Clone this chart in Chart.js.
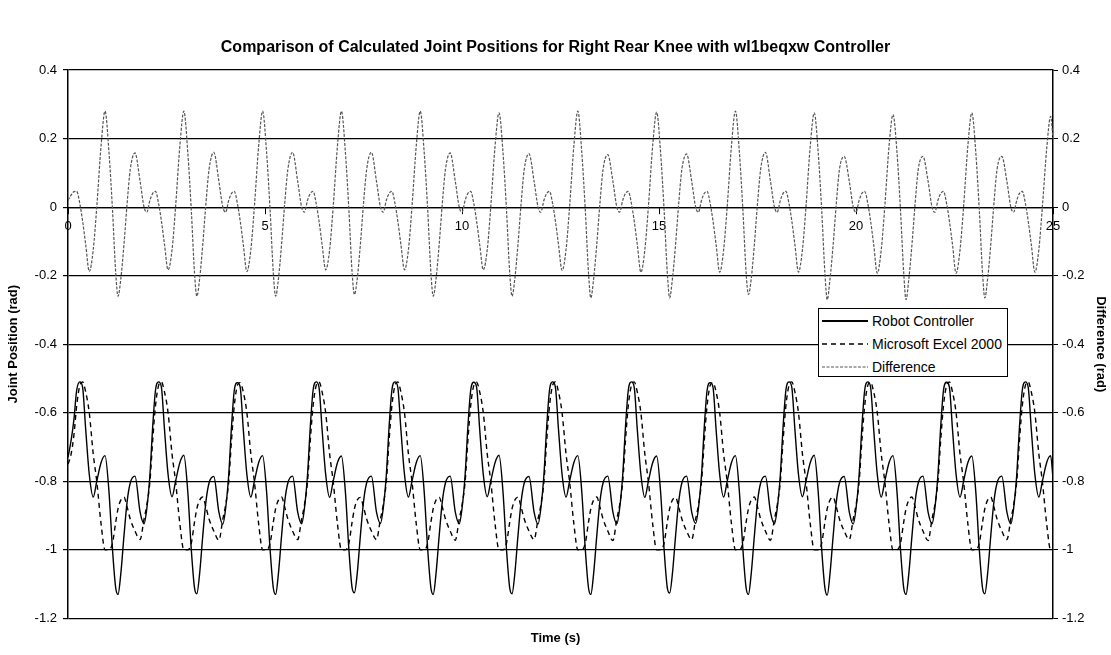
<!DOCTYPE html>
<html><head><meta charset="utf-8">
<script src="https://cdn.jsdelivr.net/npm/chart.js@4.4.1/dist/chart.umd.min.js"></script>
<style>
html,body{margin:0;padding:0;background:#fff}
#wrap{position:relative;width:1111px;height:655px}
#legend{position:absolute;left:818px;top:308px;width:190px;height:69px;border:1px solid #000;background:#fff;
font-family:'Liberation Sans',Arial,sans-serif;font-size:14px;color:#000;box-sizing:border-box;padding-top:0px}
#legend .row{height:23px;display:flex;align-items:center}
#legend svg{margin-left:3px;margin-right:4px;flex:none}
</style></head>
<body><div id="wrap"><canvas id="c" width="1111" height="655"></canvas>
<div id="legend">
<div class="row"><svg width="46" height="10"><line x1="0" y1="5" x2="46" y2="5" stroke="#000" stroke-width="2"/></svg><span>Robot Controller</span></div>
<div class="row"><svg width="46" height="10"><line x1="0" y1="5" x2="46" y2="5" stroke="#000" stroke-width="1.4" stroke-dasharray="5,4"/></svg><span>Microsoft Excel 2000</span></div>
<div class="row"><svg width="46" height="10"><line x1="0" y1="5" x2="46" y2="5" stroke="#555" stroke-width="1.2" stroke-dasharray="3,1.5"/></svg><span>Difference</span></div>
</div></div>
<script>
const chartTitle = 'Comparison of Calculated Joint Positions for Right Rear Knee with wl1beqxw Controller';
const seriesNames = ['Robot Controller', 'Microsoft Excel 2000', 'Difference'];
const xTicks = [0, 5, 10, 15, 20, 25];
const yTicks = [0.4, 0.2, 0, -0.2, -0.4, -0.6, -0.8, -1, -1.2];
const yTickLabels = ['0.4', '0.2', '0', '-0.2', '-0.4', '-0.6', '-0.8', '-1', '-1.2'];

const time = [
0,0.08,0.15,0.22,0.3,0.37,0.45,0.54,0.64,0.73,0.84,0.94,1.04,1.13,1.21,1.27,1.34,1.42,1.5,1.58,1.7,1.83,1.93,
2,2.08,2.15,2.22,2.3,2.37,2.45,2.54,2.64,2.73,2.84,2.94,3.04,3.13,3.21,3.27,3.34,3.42,3.5,3.58,3.7,3.83,3.93,
4,4.08,4.15,4.22,4.3,4.37,4.45,4.54,4.64,4.73,4.84,4.94,5.04,5.13,5.21,5.27,5.34,5.42,5.5,5.58,5.7,5.83,5.93,
6,6.08,6.15,6.22,6.3,6.37,6.45,6.54,6.64,6.73,6.84,6.94,7.04,7.13,7.21,7.27,7.34,7.42,7.5,7.58,7.7,7.83,7.93,
8,8.08,8.15,8.22,8.3,8.37,8.45,8.54,8.64,8.73,8.84,8.94,9.04,9.13,9.21,9.27,9.34,9.42,9.5,9.58,9.7,9.83,9.93,
10,10.08,10.15,10.22,10.3,10.37,10.45,10.54,10.64,10.73,10.84,10.94,11.04,11.13,11.21,11.27,11.34,11.42,11.5,11.58,11.7,11.83,11.93,
12,12.08,12.15,12.22,12.3,12.37,12.45,12.54,12.64,12.73,12.84,12.94,13.04,13.13,13.21,13.27,13.34,13.42,13.5,13.58,13.7,13.83,13.93,
14,14.08,14.15,14.22,14.3,14.37,14.45,14.54,14.64,14.73,14.84,14.94,15.04,15.13,15.21,15.27,15.34,15.42,15.5,15.58,15.7,15.83,15.93,
16,16.08,16.15,16.22,16.3,16.37,16.45,16.54,16.64,16.73,16.84,16.94,17.04,17.13,17.21,17.27,17.34,17.42,17.5,17.58,17.7,17.83,17.93,
18,18.08,18.15,18.22,18.3,18.37,18.45,18.54,18.64,18.73,18.84,18.94,19.04,19.13,19.21,19.27,19.34,19.42,19.5,19.58,19.7,19.83,19.93,
20,20.08,20.15,20.22,20.3,20.37,20.45,20.54,20.64,20.73,20.84,20.94,21.04,21.13,21.21,21.27,21.34,21.42,21.5,21.58,21.7,21.83,21.93,
22,22.08,22.15,22.22,22.3,22.37,22.45,22.54,22.64,22.73,22.84,22.94,23.04,23.13,23.21,23.27,23.34,23.42,23.5,23.58,23.7,23.83,23.93,
24,24.08,24.15,24.22,24.3,24.37,24.45,24.54,24.64,24.73,24.84,24.94,25
];

const robotController = [
-0.73,-0.68,-0.62,-0.535,-0.51,-0.525,-0.65,-0.78,-0.846,-0.8,-0.745,-0.725,-0.83,-1,-1.11,-1.13,-1.07,-0.96,-0.86,-0.805,-0.785,-0.89,-0.924,
-0.88,-0.78,-0.64,-0.535,-0.51,-0.525,-0.65,-0.78,-0.845,-0.8,-0.745,-0.724,-0.83,-1,-1.11,-1.128,-1.07,-0.96,-0.86,-0.805,-0.786,-0.89,-0.925,
-0.88,-0.78,-0.64,-0.535,-0.512,-0.525,-0.65,-0.78,-0.846,-0.8,-0.745,-0.725,-0.83,-1,-1.11,-1.13,-1.07,-0.96,-0.86,-0.805,-0.785,-0.89,-0.924,
-0.88,-0.78,-0.64,-0.535,-0.51,-0.525,-0.65,-0.78,-0.847,-0.8,-0.745,-0.726,-0.83,-1,-1.11,-1.125,-1.07,-0.96,-0.86,-0.805,-0.785,-0.89,-0.923,
-0.88,-0.78,-0.64,-0.535,-0.51,-0.525,-0.65,-0.78,-0.846,-0.8,-0.745,-0.725,-0.83,-1,-1.11,-1.13,-1.07,-0.96,-0.86,-0.805,-0.785,-0.89,-0.924,
-0.88,-0.78,-0.64,-0.535,-0.511,-0.525,-0.65,-0.78,-0.845,-0.8,-0.745,-0.724,-0.83,-1,-1.11,-1.128,-1.07,-0.96,-0.86,-0.805,-0.786,-0.89,-0.925,
-0.88,-0.78,-0.64,-0.535,-0.51,-0.525,-0.65,-0.78,-0.846,-0.8,-0.745,-0.725,-0.83,-1,-1.11,-1.13,-1.07,-0.96,-0.86,-0.805,-0.785,-0.89,-0.924,
-0.88,-0.78,-0.64,-0.535,-0.51,-0.525,-0.65,-0.78,-0.847,-0.8,-0.745,-0.726,-0.83,-1,-1.11,-1.126,-1.07,-0.96,-0.86,-0.805,-0.785,-0.89,-0.923,
-0.88,-0.78,-0.64,-0.535,-0.512,-0.525,-0.65,-0.78,-0.846,-0.8,-0.745,-0.725,-0.83,-1,-1.11,-1.13,-1.07,-0.96,-0.86,-0.805,-0.785,-0.89,-0.924,
-0.88,-0.78,-0.64,-0.535,-0.51,-0.525,-0.65,-0.78,-0.845,-0.8,-0.745,-0.724,-0.83,-1,-1.11,-1.132,-1.07,-0.96,-0.86,-0.805,-0.786,-0.89,-0.925,
-0.88,-0.78,-0.64,-0.535,-0.51,-0.525,-0.65,-0.78,-0.846,-0.8,-0.745,-0.725,-0.83,-1,-1.11,-1.13,-1.07,-0.96,-0.86,-0.805,-0.785,-0.89,-0.924,
-0.88,-0.78,-0.64,-0.535,-0.511,-0.525,-0.65,-0.78,-0.846,-0.8,-0.745,-0.726,-0.83,-1,-1.11,-1.128,-1.07,-0.96,-0.86,-0.805,-0.785,-0.89,-0.924,
-0.88,-0.78,-0.64,-0.535,-0.51,-0.525,-0.65,-0.78,-0.846,-0.8,-0.745,-0.725,-0.79
];

const excel2000 = [
-0.75,-0.72,-0.665,-0.58,-0.52,-0.51,-0.54,-0.6,-0.72,-0.8,-0.925,-1,-1,-0.98,-0.92,-0.88,-0.855,-0.846,-0.875,-0.91,-0.945,-0.97,-0.91,
-0.87,-0.8,-0.68,-0.58,-0.52,-0.51,-0.54,-0.6,-0.72,-0.8,-0.925,-1,-1,-0.98,-0.92,-0.88,-0.855,-0.846,-0.875,-0.91,-0.945,-0.972,-0.91,
-0.87,-0.8,-0.68,-0.58,-0.52,-0.512,-0.54,-0.6,-0.72,-0.8,-0.925,-1,-1,-0.98,-0.92,-0.88,-0.855,-0.846,-0.875,-0.91,-0.945,-0.97,-0.91,
-0.87,-0.8,-0.68,-0.58,-0.52,-0.51,-0.54,-0.6,-0.72,-0.8,-0.925,-1,-1,-0.98,-0.92,-0.88,-0.855,-0.847,-0.875,-0.91,-0.945,-0.97,-0.91,
-0.87,-0.8,-0.68,-0.58,-0.52,-0.51,-0.54,-0.6,-0.72,-0.8,-0.925,-1,-1,-0.98,-0.92,-0.88,-0.855,-0.846,-0.875,-0.91,-0.945,-0.972,-0.91,
-0.87,-0.8,-0.68,-0.58,-0.52,-0.511,-0.54,-0.6,-0.72,-0.8,-0.925,-1,-1,-0.98,-0.92,-0.88,-0.855,-0.846,-0.875,-0.91,-0.945,-0.97,-0.91,
-0.87,-0.8,-0.68,-0.58,-0.52,-0.51,-0.54,-0.6,-0.72,-0.8,-0.925,-1,-1,-0.98,-0.92,-0.88,-0.855,-0.846,-0.875,-0.91,-0.945,-0.973,-0.91,
-0.87,-0.8,-0.68,-0.58,-0.52,-0.51,-0.54,-0.6,-0.72,-0.8,-0.925,-1,-1,-0.98,-0.92,-0.88,-0.855,-0.847,-0.875,-0.91,-0.945,-0.97,-0.91,
-0.87,-0.8,-0.68,-0.58,-0.52,-0.512,-0.54,-0.6,-0.72,-0.8,-0.925,-1,-1,-0.98,-0.92,-0.88,-0.855,-0.846,-0.875,-0.91,-0.945,-0.972,-0.91,
-0.87,-0.8,-0.68,-0.58,-0.52,-0.51,-0.54,-0.6,-0.72,-0.8,-0.925,-1,-1,-0.98,-0.92,-0.88,-0.855,-0.846,-0.875,-0.91,-0.945,-0.97,-0.91,
-0.87,-0.8,-0.68,-0.58,-0.52,-0.511,-0.54,-0.6,-0.72,-0.8,-0.925,-1,-1,-0.98,-0.92,-0.88,-0.855,-0.846,-0.875,-0.91,-0.945,-0.973,-0.91,
-0.87,-0.8,-0.68,-0.58,-0.52,-0.51,-0.54,-0.6,-0.72,-0.8,-0.925,-1,-1,-0.98,-0.92,-0.88,-0.855,-0.846,-0.875,-0.91,-0.945,-0.97,-0.91,
-0.87,-0.8,-0.68,-0.58,-0.52,-0.51,-0.54,-0.6,-0.72,-0.8,-0.925,-1,-1
];

const difference = [
0.02,0.035,0.045,0.046,0.01,-0.04,-0.11,-0.188,-0.125,0,0.18,0.28,0.16,-0.01,-0.19,-0.26,-0.21,-0.11,0.01,0.11,0.158,0.075,0,
-0.015,0.02,0.04,0.046,0.01,-0.04,-0.11,-0.183,-0.125,0,0.18,0.28,0.16,-0.01,-0.19,-0.26,-0.21,-0.11,0.01,0.11,0.16,0.075,0,
-0.015,0.02,0.04,0.046,0.01,-0.04,-0.11,-0.188,-0.125,0,0.18,0.28,0.16,-0.01,-0.19,-0.26,-0.21,-0.11,0.01,0.11,0.16,0.075,0,
-0.015,0.02,0.04,0.046,0.01,-0.04,-0.11,-0.183,-0.125,0,0.18,0.28,0.16,-0.01,-0.19,-0.255,-0.21,-0.11,0.01,0.11,0.16,0.075,0,
-0.015,0.02,0.04,0.046,0.01,-0.04,-0.11,-0.183,-0.125,0,0.18,0.28,0.16,-0.01,-0.19,-0.26,-0.21,-0.11,0.01,0.11,0.158,0.075,0,
-0.015,0.02,0.04,0.046,0.01,-0.04,-0.11,-0.183,-0.125,0,0.18,0.275,0.16,-0.01,-0.19,-0.26,-0.21,-0.11,0.01,0.11,0.156,0.075,0,
-0.015,0.02,0.04,0.046,0.01,-0.04,-0.11,-0.185,-0.125,0,0.18,0.28,0.16,-0.01,-0.19,-0.265,-0.21,-0.11,0.01,0.11,0.153,0.075,0,
-0.015,0.02,0.04,0.046,0.01,-0.04,-0.11,-0.19,-0.125,0,0.18,0.277,0.16,-0.01,-0.19,-0.265,-0.21,-0.11,0.01,0.11,0.155,0.075,0,
-0.015,0.02,0.04,0.046,0.01,-0.04,-0.11,-0.19,-0.125,0,0.18,0.28,0.16,-0.01,-0.19,-0.255,-0.21,-0.11,0.01,0.11,0.16,0.075,0,
-0.015,0.02,0.04,0.046,0.01,-0.04,-0.11,-0.19,-0.125,0,0.18,0.275,0.16,-0.01,-0.19,-0.27,-0.21,-0.11,0.01,0.11,0.148,0.075,0,
-0.015,0.02,0.04,0.046,0.01,-0.04,-0.11,-0.193,-0.125,0,0.18,0.27,0.16,-0.01,-0.19,-0.27,-0.21,-0.11,0.01,0.11,0.148,0.075,0,
-0.015,0.02,0.04,0.046,0.01,-0.04,-0.11,-0.193,-0.125,0,0.18,0.275,0.16,-0.01,-0.19,-0.265,-0.21,-0.11,0.01,0.11,0.148,0.075,0,
-0.015,0.02,0.04,0.046,0.01,-0.04,-0.11,-0.19,-0.125,0,0.17,0.265,0.2
];

const FONT = "'Liberation Sans', Arial, sans-serif";
const pts = arr => time.map((t, i) => ({x: t, y: arr[i]}));
const setTicks = vals => scale => { scale.ticks = vals.map(v => ({value: v})); };
const yLabel = v => { const i = yTicks.findIndex(t => Math.abs(t - v) < 1e-9); return i >= 0 ? yTickLabels[i] : ''; };

new Chart(document.getElementById('c'), {
  type: 'line',
  data: {
    datasets: [
      {label: seriesNames[0], data: pts(robotController), borderColor: '#000', borderWidth: 1.4, pointRadius: 0, cubicInterpolationMode: 'monotone', yAxisID: 'y'},
      {label: seriesNames[1], data: pts(excel2000), borderColor: '#000', borderWidth: 1.4, borderDash: [5, 4], pointRadius: 0, cubicInterpolationMode: 'monotone', yAxisID: 'y'},
      {label: seriesNames[2], data: pts(difference), borderColor: '#555', borderWidth: 1.2, borderDash: [3, 1.5], pointRadius: 0, cubicInterpolationMode: 'monotone', yAxisID: 'y2'}
    ]
  },
  options: {
    responsive: false, animation: false, events: [],
    layout: {padding: 0},
    plugins: {
      legend: {display: false}, tooltip: {enabled: false},
      title: {display: true, text: chartTitle, color: '#000', font: {family: FONT, size: 16, weight: 'bold'}, padding: {top: 37.5, bottom: 13.3}},
      subtitle: {display: true, position: 'bottom', text: 'Time (s)', color: '#000', font: {family: FONT, size: 13, weight: 'bold'}, padding: {top: 12, bottom: 9}}
    },
    scales: {
      x: {
        type: 'linear', min: 0, max: 25, position: {y: 0},
        afterBuildTicks: setTicks(xTicks),
        grid: {display: true, drawOnChartArea: false, drawTicks: true, tickLength: 6, color: '#000'},
        border: {display: true, color: '#000', width: 1.2},
        ticks: {color: '#000', font: {family: FONT, size: 13}, padding: 6, maxRotation: 0, autoSkip: false}
      },
      y: {
        type: 'linear', position: 'left', min: -1.2, max: 0.4,
        afterBuildTicks: setTicks(yTicks),
        afterFit: s => { s.width = 68; },
        grid: {color: '#000', lineWidth: 1.2, drawTicks: true, tickLength: 5},
        border: {display: true, color: '#000', width: 1.5},
        ticks: {color: '#000', font: {family: FONT, size: 13}, padding: 6, callback: v => yLabel(v)},
        title: {display: true, text: 'Joint Position (rad)', color: '#000', font: {family: FONT, size: 13, weight: 'bold'}, padding: {top: 6, bottom: 0}}
      },
      y2: {
        type: 'linear', position: 'right', min: -1.2, max: 0.4,
        afterBuildTicks: setTicks(yTicks),
        afterFit: s => { s.width = 58; },
        grid: {drawOnChartArea: false, color: '#000', drawTicks: true, tickLength: 5},
        border: {display: true, color: '#000', width: 1.5},
        ticks: {color: '#000', font: {family: FONT, size: 13}, padding: 4, callback: v => yLabel(v)},
        title: {display: true, text: 'Difference (rad)', color: '#000', font: {family: FONT, size: 13, weight: 'bold'}, padding: {top: 3, bottom: 0}}
      }
    }
  }
});
</script>
</body></html>
